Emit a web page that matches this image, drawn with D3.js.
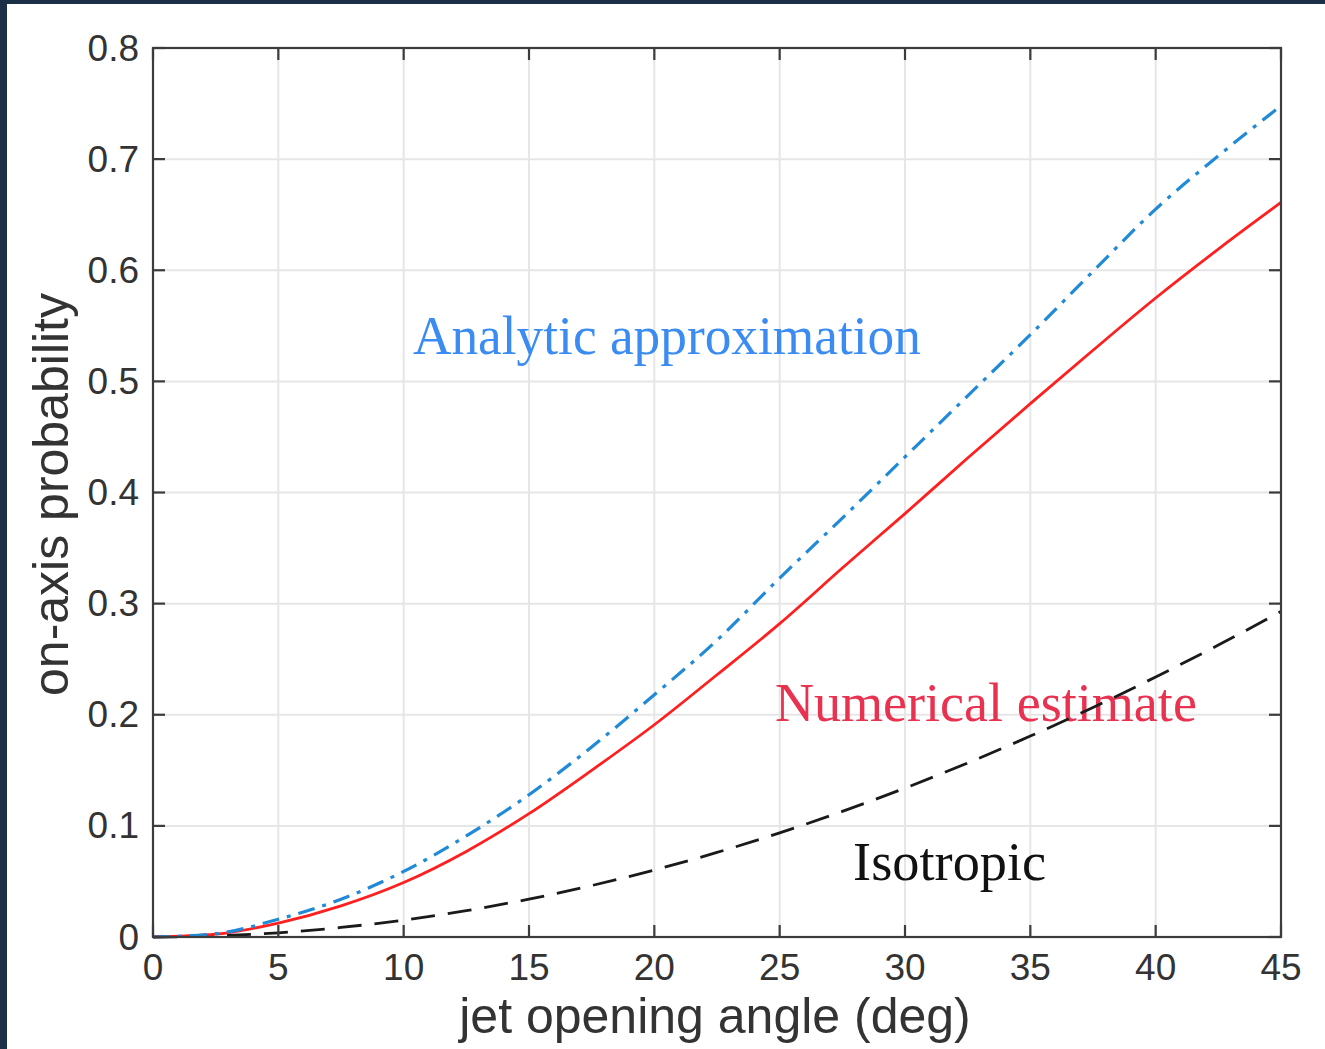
<!DOCTYPE html>
<html>
<head>
<meta charset="utf-8">
<script src="https://cdn.jsdelivr.net/npm/d3@7"></script>
<style>
  html, body { margin: 0; padding: 0; background: #ffffff; }
  svg { display: block; }
</style>
</head>
<body>
<svg id="chart" width="1325" height="1049"></svg>
<script>
// Jet opening angle (deg) at which each curve is sampled
const angles = [0, 2.5, 5, 7.5, 10, 12.5, 15, 17.5, 20, 22.5, 25, 27.5, 30, 32.5, 35, 37.5, 40, 42.5, 45];

// On-axis probability for each model
const analytic  = [0, 0.003, 0.016, 0.034, 0.059, 0.091, 0.128, 0.171, 0.218, 0.267, 0.323, 0.377, 0.432, 0.487, 0.542, 0.599, 0.655, 0.703, 0.748];
const numerical = [0, 0.0025, 0.0125, 0.028, 0.049, 0.077, 0.111, 0.150, 0.191, 0.236, 0.282, 0.332, 0.381, 0.431, 0.480, 0.528, 0.575, 0.619, 0.661];
const isotropic = [0, 0.001, 0.0038, 0.0086, 0.0152, 0.0237, 0.0341, 0.0463, 0.0603, 0.0761, 0.0937, 0.1130, 0.1340, 0.1566, 0.1808, 0.2066, 0.2340, 0.2627, 0.2929];

// Tick values
const xTicks = [0, 5, 10, 15, 20, 25, 30, 35, 40, 45];
const yTicks = [0, 0.1, 0.2, 0.3, 0.4, 0.5, 0.6, 0.7, 0.8];

// Curve annotations: label, anchor angle, anchor probability
const annotations = [
  { text: "Analytic approximation", angle: 10.37, prob: 0.5247 },
  { text: "Numerical estimate",     angle: 24.81, prob: 0.1941 },
  { text: "Isotropic",              angle: 27.93, prob: 0.0513 }
];

const svg = d3.select("#chart");
const W = 1325, H = 1049;
const margin = { left: 153, top: 48, right: 44, bottom: 112 };
const innerW = W - margin.left - margin.right;
const innerH = H - margin.top - margin.bottom;

// frame
svg.append("rect").attr("x", 0).attr("y", 0).attr("width", W).attr("height", H).attr("fill", "#ffffff");
svg.append("rect").attr("x", 0).attr("y", 0).attr("width", 7).attr("height", H).attr("fill", "#1b2f47");
svg.append("rect").attr("x", 0).attr("y", 0).attr("width", W).attr("height", 4).attr("fill", "#1b2f47");

const x = d3.scaleLinear().domain([0, 45]).range([0, innerW]);
const y = d3.scaleLinear().domain([0, 0.8]).range([innerH, 0]);

const g = svg.append("g").attr("transform", `translate(${margin.left},${margin.top})`);

// grid
const grid = g.append("g").attr("stroke", "#e6e6e6").attr("stroke-width", 2);
grid.selectAll("line.gx").data(xTicks).join("line")
  .attr("x1", d => x(d)).attr("x2", d => x(d)).attr("y1", 0).attr("y2", innerH);
grid.selectAll("line.gy").data(yTicks).join("line")
  .attr("y1", d => y(d)).attr("y2", d => y(d)).attr("x1", 0).attr("x2", innerW);

// annotations
const colors = ["#3a8cf2", "#e8324f", "#111111"];
const textWidths = [508, 422, 193];
g.selectAll("text.note").data(annotations).join("text")
  .attr("class", "note")
  .attr("x", d => x(d.angle))
  .attr("y", d => y(d.prob))
  .attr("font-family", "'Liberation Serif', 'Times New Roman', serif")
  .attr("font-size", 54)
  .attr("fill", (d, i) => colors[i])
  .attr("textLength", (d, i) => textWidths[i])
  .attr("lengthAdjust", "spacingAndGlyphs")
  .text(d => d.text);

// curves
const line = d3.line()
  .x(d => x(d[0]))
  .y(d => y(d[1]))
  .curve(d3.curveMonotoneX);

const series = [
  { values: isotropic, color: "#1a1a1a", width: 2.8, dash: "24,13" },
  { values: numerical, color: "#ff1f1f", width: 2.8, dash: null },
  { values: analytic,  color: "#218ad6", width: 3.2, dash: "17,8,4,8" }
];

series.forEach(s => {
  g.append("path")
    .datum(angles.map((a, i) => [a, s.values[i]]))
    .attr("fill", "none")
    .attr("stroke", s.color)
    .attr("stroke-width", s.width)
    .attr("stroke-dasharray", s.dash)
    .attr("d", line);
});

// axes box with inward ticks
const axisColor = "#3c3c3c";
const tickLen = 12;
const tk = g.append("g").attr("stroke", axisColor).attr("stroke-width", 2.2);
xTicks.forEach(v => {
  tk.append("line").attr("x1", x(v)).attr("x2", x(v)).attr("y1", innerH).attr("y2", innerH - tickLen);
  tk.append("line").attr("x1", x(v)).attr("x2", x(v)).attr("y1", 0).attr("y2", tickLen);
});
yTicks.forEach(v => {
  tk.append("line").attr("y1", y(v)).attr("y2", y(v)).attr("x1", 0).attr("x2", tickLen);
  tk.append("line").attr("y1", y(v)).attr("y2", y(v)).attr("x1", innerW).attr("x2", innerW - tickLen);
});
g.append("rect")
  .attr("x", 0).attr("y", 0).attr("width", innerW).attr("height", innerH)
  .attr("fill", "none").attr("stroke", axisColor).attr("stroke-width", 2.2);

// tick labels
const labelFont = "'Liberation Sans', Arial, Helvetica, sans-serif";
g.selectAll("text.xt").data(xTicks).join("text")
  .attr("x", d => x(d)).attr("y", innerH + 43)
  .attr("text-anchor", "middle")
  .attr("font-family", labelFont).attr("font-size", 37).attr("fill", "#333333")
  .text(d => d3.format("")(d));

g.selectAll("text.yt").data(yTicks).join("text")
  .attr("x", -14).attr("y", d => y(d) + 12.5)
  .attr("text-anchor", "end")
  .attr("font-family", labelFont).attr("font-size", 37).attr("fill", "#333333")
  .text(d => d === 0 ? "0" : d3.format(".1f")(d));

// axis titles
svg.append("text")
  .attr("x", margin.left + innerW / 2 - 2).attr("y", 1033)
  .attr("text-anchor", "middle")
  .attr("font-family", labelFont).attr("font-size", 50).attr("fill", "#333333")
  .text("jet opening angle (deg)");

svg.append("text")
  .attr("transform", `translate(68, ${margin.top + innerH / 2 + 2}) rotate(-90)`)
  .attr("text-anchor", "middle")
  .attr("font-family", labelFont).attr("font-size", 50).attr("fill", "#333333")
  .text("on-axis probability");
</script>
</body>
</html>
